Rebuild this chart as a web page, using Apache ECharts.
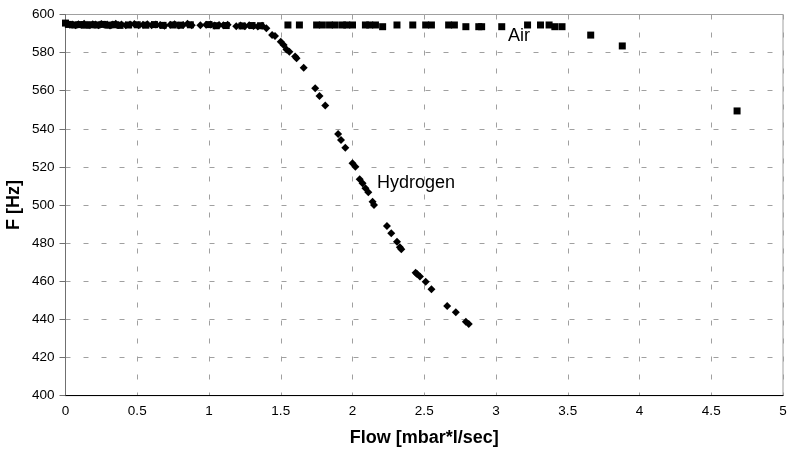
<!DOCTYPE html>
<html>
<head>
<meta charset="utf-8">
<script src="https://cdn.jsdelivr.net/npm/echarts@6/dist/echarts.min.js"></script>
<style>
html,body{margin:0;padding:0;background:#fff;}
#c{width:789px;height:454px;}
</style>
</head>
<body>
<div id="c"></div>
<script>
const xTicks = { min: 0, max: 5, interval: 0.5 };
const yTicks = { min: 400, max: 600, interval: 20 };

const airData = [
  [0,595.5],[0.02,594.8],[0.06,594.5],[0.10,594.7],[0.14,594.4],[0.18,594.6],[0.22,594.5],
  [0.26,594.8],[0.30,594.4],[0.34,594.6],[0.38,594.3],[0.44,594.5],[0.50,594.6],[0.56,594.4],
  [0.62,594.7],[0.68,594.3],[0.75,594.5],[0.80,594.4],[0.87,594.6],[1.00,594.7],[1.05,594.1],
  [1.12,594.2],[1.23,594.0],[1.30,594.2],[1.36,594.1],
  [1.55,594.5],[1.63,594.5],[1.75,594.5],[1.79,594.5],[1.84,594.5],[1.88,594.5],[1.93,594.5],
  [1.96,594.5],[2.00,594.5],[2.09,594.5],[2.12,594.5],[2.16,594.5],[2.21,593.6],[2.31,594.5],
  [2.42,594.5],[2.51,594.5],[2.55,594.5],[2.67,594.5],[2.71,594.5],[2.79,593.6],[2.88,593.6],
  [2.90,593.6],[3.04,593.6],[3.22,594.5],[3.31,594.5],[3.37,594.5],[3.41,593.6],[3.46,593.6],
  [3.66,589.2],[3.88,583.5],[4.68,549.4]
];

const hydrogenData = [
  [0.01,595.0],[0.03,594.6],[0.05,594.8],[0.07,594.3],[0.09,594.9],[0.11,594.5],[0.13,595.1],
  [0.15,594.6],[0.17,594.4],[0.19,594.9],[0.21,594.7],[0.23,594.3],[0.25,595.0],[0.27,594.6],
  [0.29,594.8],[0.31,594.2],[0.33,594.7],[0.35,595.1],[0.37,594.5],[0.39,594.8],[0.42,594.3],
  [0.45,594.7],[0.48,595.0],[0.51,594.4],[0.54,594.6],[0.57,594.9],[0.60,594.3],[0.63,594.7],
  [0.66,594.5],[0.69,594.1],[0.73,594.6],[0.76,594.9],[0.79,594.2],[0.82,594.5],[0.85,595.2],
  [0.88,594.4],[0.94,594.3],[0.98,594.6],[1.01,594.8],[1.04,594.2],[1.07,594.5],[1.10,594.3],
  [1.13,594.6],[1.19,593.9],[1.22,594.2],[1.25,593.8],[1.28,594.3],[1.31,594.0],[1.34,593.7],
  [1.37,594.1],
  [1.40,592.8],[1.44,589.2],[1.46,588.7],[1.50,585.7],[1.52,584.0],[1.54,581.7],[1.56,580.5],
  [1.60,577.9],[1.61,577.0],[1.66,572.1],[1.74,561.3],[1.77,557.2],[1.81,552.2],[1.90,537.3],
  [1.92,534.2],[1.95,530.1],[2.00,521.9],[2.02,520.1],[2.05,513.5],[2.07,511.4],[2.09,508.8],
  [2.11,506.7],[2.14,501.8],[2.15,500.1],[2.24,489.0],[2.27,485.2],[2.31,480.8],[2.33,477.9],
  [2.34,476.8],[2.44,464.5],[2.45,463.8],[2.47,462.6],[2.51,459.8],[2.55,455.8],[2.66,447.0],
  [2.72,443.8],[2.79,438.8],[2.81,437.6]
];

const seriesLabels = { air: 'Air', hydrogen: 'Hydrogen' };
const axisNames = { x: 'Flow [mbar*l/sec]', y: 'F [Hz]' };

const FONT = '"Liberation Sans", Arial, sans-serif';
const chart = echarts.init(document.getElementById('c'), null, { renderer: 'canvas' });
const splitStyle = { show: true, lineStyle: { color: '#a0a0a0', width: 1, type: [5, 13] } };

chart.setOption({
  animation: false,
  backgroundColor: '#fff',
  grid: { left: 65.5, right: 6, top: 14.5, bottom: 58.3, containLabel: false, outerBoundsMode: 'none',
          show: true, borderColor: '#a0a0a0', borderWidth: 1, backgroundColor: 'transparent' },
  xAxis: {
    type: 'value', min: xTicks.min, max: xTicks.max, interval: xTicks.interval,
    name: axisNames.x, nameLocation: 'middle', nameGap: 33, nameMoveOverlap: false,
    nameTextStyle: { fontFamily: FONT, fontSize: 18, fontWeight: 'bold', color: '#000' },
    axisLine: { show: true, onZero: false, lineStyle: { color: '#000', width: 1 } },
    axisTick: { show: false },
    axisLabel: { fontFamily: FONT, fontSize: 13.5, color: '#000', margin: 9 },
    splitLine: splitStyle
  },
  yAxis: {
    type: 'value', min: yTicks.min, max: yTicks.max, interval: yTicks.interval,
    name: axisNames.y, nameLocation: 'middle', nameGap: 42, nameRotate: 90, nameMoveOverlap: false,
    nameTextStyle: { fontFamily: FONT, fontSize: 18, fontWeight: 'bold', color: '#000' },
    axisLine: { show: true, onZero: false, lineStyle: { color: '#707070', width: 1 } },
    axisTick: { show: true, length: 6, lineStyle: { color: '#707070' } },
    axisLabel: { fontFamily: FONT, fontSize: 13.5, color: '#000', margin: 11 },
    splitLine: splitStyle
  },
  series: [
    { name: seriesLabels.air, type: 'scatter', symbol: 'rect', symbolSize: 7,
      itemStyle: { color: '#000', opacity: 1 }, data: airData },
    { name: seriesLabels.hydrogen, type: 'scatter', symbol: 'diamond', symbolSize: 8,
      itemStyle: { color: '#000', opacity: 1 }, data: hydrogenData }
  ],
  graphic: [
    { type: 'text', left: 508, top: 27, style: { text: seriesLabels.air, font: '18px ' + FONT, fill: '#000' } },
    { type: 'text', left: 377, top: 174, style: { text: seriesLabels.hydrogen, font: '18px ' + FONT, fill: '#000' } }
  ]
});
</script>
</body>
</html>
